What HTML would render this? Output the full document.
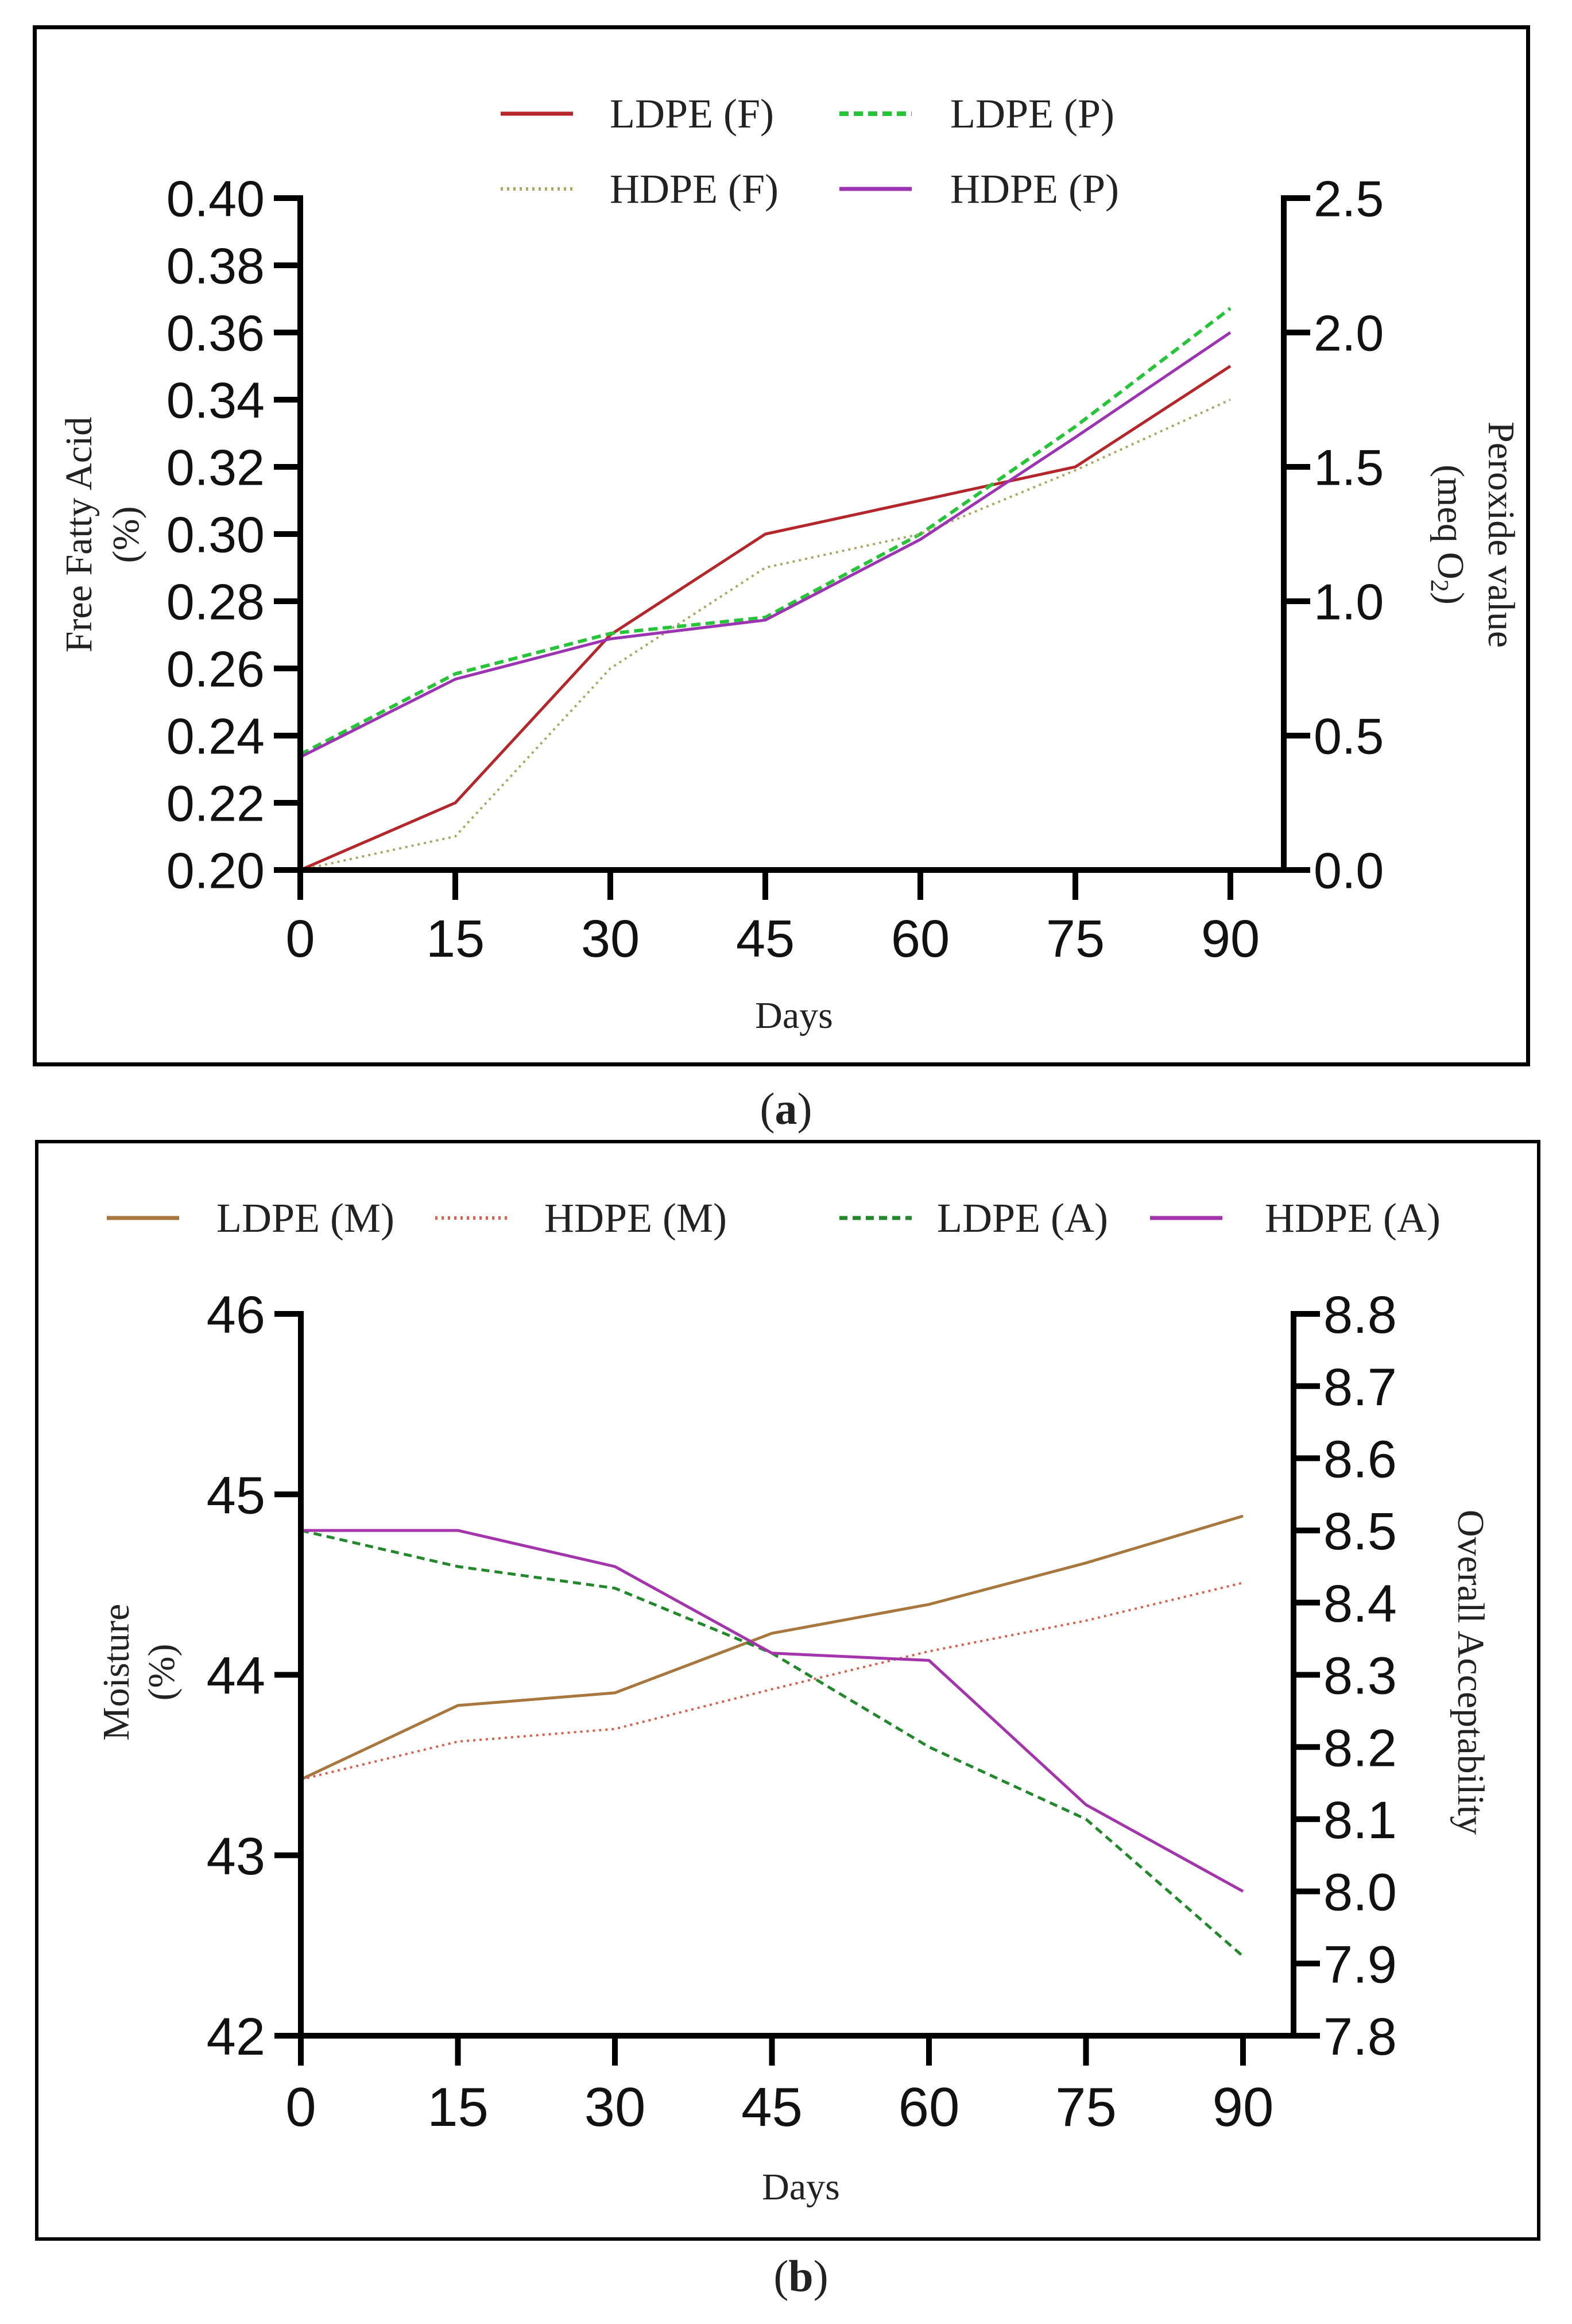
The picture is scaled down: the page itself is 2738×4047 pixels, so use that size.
<!DOCTYPE html>
<html><head><meta charset="utf-8"><style>
html,body{margin:0;padding:0;background:#fff;}
svg{display:block;}
.tk{font-family:"Liberation Sans",Arial,sans-serif;fill:#111;}
.sf{font-family:"Liberation Serif","Times New Roman",serif;fill:#222;}
</style></head><body>
<svg id="fig" width="2738" height="4047" viewBox="0 0 2738 4047" xmlns="http://www.w3.org/2000/svg">
<rect x="0" y="0" width="2738" height="4047" fill="#fff"/>
<rect x="60.5" y="47.5" width="2601" height="1806" fill="none" stroke="#000" stroke-width="7"/>
<rect x="64" y="1988" width="2616" height="1911" fill="none" stroke="#000" stroke-width="6"/>
<g id="ga"></g>
<g id="gb"></g>
<text x="1369" y="1957" text-anchor="middle" class="sf" font-size="78">(<tspan font-weight="bold">a</tspan>)</text>
<text x="1395" y="3990" text-anchor="middle" class="sf" font-size="78">(<tspan font-weight="bold">b</tspan>)</text>
</svg>
<script>
// ---------- data panel a ----------
const daysA = [0, 15, 30, 45, 60, 75, 90];
const ffaLdpe = [0.20, 0.22, 0.27, 0.30, 0.31, 0.32, 0.35];
const ffaHdpe = [0.20, 0.21, 0.26, 0.29, 0.30, 0.319, 0.34];
const pvLdpe = [0.43, 0.73, 0.88, 0.94, 1.25, 1.65, 2.09];
const pvHdpe = [0.42, 0.71, 0.86, 0.93, 1.23, 1.61, 2.0];
const ticksA_left = ["0.20","0.22","0.24","0.26","0.28","0.30","0.32","0.34","0.36","0.38","0.40"];
const ticksA_right = ["0.0","0.5","1.0","1.5","2.0","2.5"];
// ---------- data panel b ----------
const daysB = [0, 15, 30, 45, 60, 75, 90];
const moistLdpe = [43.42, 43.83, 43.90, 44.23, 44.39, 44.62, 44.88];
const moistHdpe = [43.42, 43.63, 43.70, 43.92, 44.13, 44.30, 44.51];
const accLdpe = [8.50, 8.45, 8.42, 8.33, 8.20, 8.10, 7.91];
const accHdpe = [8.50, 8.50, 8.45, 8.33, 8.32, 8.12, 8.00];
const ticksB_left = ["42","43","44","45","46"];
const ticksB_right = ["7.8","7.9","8.0","8.1","8.2","8.3","8.4","8.5","8.6","8.7","8.8"];

const NS = "http://www.w3.org/2000/svg";
function mk(parent, tag, attrs, text){
  const e = document.createElementNS(NS, tag);
  for (const k in attrs) e.setAttribute(k, attrs[k]);
  if (text !== undefined) e.textContent = text;
  parent.appendChild(e);
  return e;
}

function drawChart(g, cfg){
  const xS = d => cfg.x0 + (d - cfg.dmin) / (cfg.dmax - cfg.dmin) * (cfg.x1 - cfg.x0);
  const yL = v => cfg.yb + (v - cfg.lmin) / (cfg.lmax - cfg.lmin) * (cfg.yt - cfg.yb);
  const yR = v => cfg.yb + (v - cfg.rmin) / (cfg.rmax - cfg.rmin) * (cfg.yt - cfg.yb);
  cfg.series.forEach(s => {
    const sc = s.axis === "L" ? yL : yR;
    const pts = s.vals.map((v, i) => xS(cfg.days[i]).toFixed(1) + "," + sc(v).toFixed(1)).join(" ");
    const pl = mk(g, "polyline", {points: pts, fill: "none", stroke: s.color, "stroke-width": s.w, "stroke-dasharray": s.dash || "none", "stroke-linejoin": "round"});
    
    
  });
  const la = mk(g, "line", {x1: cfg.x0, y1: cfg.yt - 5, x2: cfg.x0, y2: cfg.yb + 5, stroke: "#000", "stroke-width": 10});
  
  
  cfg.lticks.forEach(t => {
    const y = yL(parseFloat(t));
    mk(g, "line", {x1: cfg.x0 - 46, y1: y, x2: cfg.x0, y2: y, stroke: "#000", "stroke-width": 10});
    const tx = mk(g, "text", {x: cfg.x0 - 62, y: y + cfg.fs * 0.36, "text-anchor": "end", class: "tk", "font-size": cfg.fs}, t);
    
    
  });
  const ra = mk(g, "line", {x1: cfg.xr, y1: cfg.yt - 5, x2: cfg.xr, y2: cfg.yb + 5, stroke: "#000", "stroke-width": 10});
  
  
  cfg.rticks.forEach(t => {
    const y = yR(parseFloat(t));
    mk(g, "line", {x1: cfg.xr, y1: y, x2: cfg.xr + 46, y2: y, stroke: "#000", "stroke-width": 10});
    const tx = mk(g, "text", {x: cfg.xr + 52, y: y + cfg.fs * 0.36, "text-anchor": "start", class: "tk", "font-size": cfg.fs}, t);
    
    
  });
  const xa = mk(g, "line", {x1: cfg.x0 - 5, y1: cfg.yb, x2: cfg.xr, y2: cfg.yb, stroke: "#000", "stroke-width": 10});
  
  
  cfg.days.forEach(d => {
    const x = xS(d);
    mk(g, "line", {x1: x, y1: cfg.yb, x2: x, y2: cfg.yb + 52, stroke: "#000", "stroke-width": 10});
    const tx = mk(g, "text", {x: x, y: cfg.xly, "text-anchor": "middle", class: "tk", "font-size": cfg.xfs}, String(d));
    
    
  });
  cfg.series.forEach(s => {
    const l = s.leg;
    const ll = mk(g, "line", {x1: l.lx, y1: l.y, x2: l.lx + 126, y2: l.y, stroke: s.color, "stroke-width": s.lw || s.w + 2, "stroke-dasharray": s.ldash || s.dash || "none"});
    
    
    const lt = mk(g, "text", {x: l.tx, y: l.y + 24, class: "sf", "font-size": 72}, s.label);
    
    
  });
}

drawChart(document.getElementById("ga"), {
  days: daysA, dmin: 0, dmax: 90, x0: 523, x1: 2143, xr: 2236, yt: 345, yb: 1515,
  lmin: 0.20, lmax: 0.40, rmin: 0, rmax: 2.5, fs: 88, xfs: 92, xly: 1666,
  lticks: ticksA_left, rticks: ticksA_right,
  series: [
    {name: "ldpe-f-line", label: "LDPE (F)", vals: ffaLdpe, axis: "L", color: "#b5262b", w: 5, leg: {lx: 872, tx: 1062, y: 198}},
    {name: "ldpe-p-line", label: "LDPE (P)", vals: pvLdpe, axis: "R", color: "#27c43a", w: 6, dash: "16 9", leg: {lx: 1462, tx: 1655, y: 198}},
    {name: "hdpe-f-line", label: "HDPE (F)", vals: ffaHdpe, axis: "L", color: "#a9a864", w: 4, dash: "4 7", leg: {lx: 872, tx: 1062, y: 329}},
    {name: "hdpe-p-line", label: "HDPE (P)", vals: pvHdpe, axis: "R", color: "#9c33b2", w: 5, leg: {lx: 1462, tx: 1655, y: 329}}
  ]
});

drawChart(document.getElementById("gb"), {
  days: daysB, dmin: 0, dmax: 90, x0: 524, x1: 2165, xr: 2253, yt: 2288, yb: 3545,
  lmin: 42, lmax: 46, rmin: 7.8, rmax: 8.8, fs: 92, xfs: 96, xly: 3702,
  lticks: ticksB_left, rticks: ticksB_right,
  series: [
    {name: "ldpe-m-line", label: "LDPE (M)", vals: moistLdpe, axis: "L", color: "#a8773e", w: 5, leg: {lx: 186, tx: 377, y: 2121}},
    {name: "hdpe-m-line", label: "HDPE (M)", vals: moistHdpe, axis: "L", color: "#d9604c", w: 4, dash: "4 7", leg: {lx: 758, tx: 948, y: 2121}},
    {name: "ldpe-a-line", label: "LDPE (A)", vals: accLdpe, axis: "R", color: "#22882c", w: 5, dash: "14 9", leg: {lx: 1462, tx: 1632, y: 2121}},
    {name: "hdpe-a-line", label: "HDPE (A)", vals: accHdpe, axis: "R", color: "#a334ac", w: 5, leg: {lx: 2003, tx: 2203, y: 2121}}
  ]
});

const svg = document.getElementById("fig");
function title(x, y, rot, txt, name, fs){
  const t = mk(svg, "text", {x: x, y: y, "text-anchor": "middle", class: "sf", "font-size": fs || 66, transform: "rotate(" + rot + " " + x + " " + y + ")"});
  t.innerHTML = txt;
  
  
}
title(137 + 22, 931, -90, "Free Fatty Acid", "left-y-title-a");
title(219 + 22, 931, -90, "(%)", "left-y-unit-a");
title(2615 - 22, 931, 90, "Peroxide value", "right-y-title-a");
title(2527 - 22, 931, 90, "(meq O<tspan font-size='44' dy='12'>2</tspan><tspan dy='-12'>)</tspan>", "right-y-unit-a");
title(1383, 1790, 0, "Days", "x-title-a");
title(202 + 22, 2912, -90, "Moisture", "left-y-title-b");
title(281 + 22, 2912, -90, "(%)", "left-y-unit-b");
title(2562 - 22, 2912, 90, "Overall Acceptability", "right-y-title-b");
title(1395, 3830, 0, "Days", "x-title-b");
</script>
</body></html>
